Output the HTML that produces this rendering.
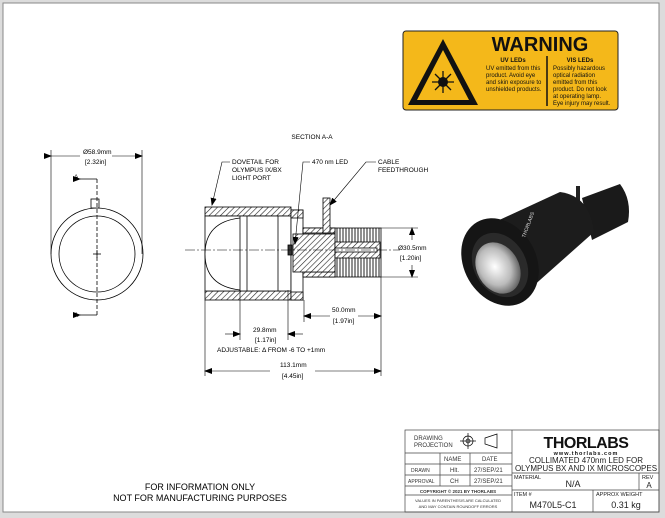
<!DOCTYPE html>
<html><head><meta charset="utf-8"><style>
html,body{margin:0;padding:0;background:#dcdcdc;}
svg{display:block;font-family:"Liberation Sans",sans-serif;}
</style></head><body>
<svg width="665" height="518" viewBox="0 0 665 518" xmlns="http://www.w3.org/2000/svg">
<defs>
<pattern id="h" width="4" height="4" patternUnits="userSpaceOnUse" patternTransform="rotate(45)">
<rect width="4" height="4" fill="#fff"/><line x1="0" y1="0" x2="0" y2="4" stroke="#222" stroke-width="1.2"/></pattern>
<pattern id="f" width="3" height="10" patternUnits="userSpaceOnUse"><rect width="3" height="10" fill="#fff"/><line x1="1" y1="0" x2="1" y2="10" stroke="#222" stroke-width="1"/></pattern>
<radialGradient id="lens" cx="0.45" cy="0.45" r="0.6"><stop offset="0" stop-color="#fff"/><stop offset="0.6" stop-color="#bbb"/><stop offset="1" stop-color="#555"/></radialGradient>
<marker id="ar" markerWidth="8" markerHeight="6" refX="7" refY="3" orient="auto" markerUnits="userSpaceOnUse"><path d="M0,0 L8,3 L0,6z" fill="#000"/></marker>
</defs>
<rect x="0" y="0" width="665" height="518" fill="#dcdcdc"/>
<rect x="3" y="3" width="656" height="509" fill="#fff" stroke="#888" stroke-width="1"/>

<!-- warning -->
<rect x="403" y="31" width="215" height="79" rx="3" fill="#f4b81a" stroke="#222" stroke-width="1"/>
<path d="M443,39 L478,105 L408,105Z" fill="#111"/>
<path d="M443,50 L469,100 L417,100Z" fill="#f4b81a"/>
<circle cx="443" cy="82" r="5" fill="#111"/>
<g stroke="#111" stroke-width="1.3">
<line x1="432" y1="82" x2="454" y2="82"/><line x1="443" y1="71" x2="443" y2="93"/>
<line x1="435" y1="74" x2="451" y2="90"/><line x1="451" y1="74" x2="435" y2="90"/>
</g>
<text x="540" y="51" font-size="20" font-weight="bold" text-anchor="middle" fill="#111">WARNING</text>
<line x1="547" y1="56" x2="547" y2="106" stroke="#111" stroke-width="1.5"/>
<g font-size="6" fill="#111">
<text x="513" y="62" font-weight="bold" text-anchor="middle">UV LEDs</text>
<text x="486" y="70">UV emitted from this</text>
<text x="486" y="77">product. Avoid eye</text>
<text x="486" y="84">and skin exposure to</text>
<text x="486" y="91">unshielded products.</text>
<text x="580" y="62" font-weight="bold" text-anchor="middle">VIS LEDs</text>
<text x="553" y="70">Possibly hazardous</text>
<text x="553" y="77">optical radiation</text>
<text x="553" y="84">emitted from this</text>
<text x="553" y="91">product. Do not look</text>
<text x="553" y="98">at operating lamp.</text>
<text x="553" y="105">Eye injury may result.</text>
</g>

<!-- left end view -->
<g stroke="#000" fill="none" stroke-width="0.8">
<circle cx="97" cy="254" r="46"/>
<circle cx="97" cy="254" r="38"/>
<rect x="91" y="199" width="8" height="9" fill="#fff"/>
<line x1="97" y1="179" x2="97" y2="315" stroke-dasharray="4,2"/>
<line x1="93" y1="254" x2="101" y2="254"/><line x1="97" y1="250" x2="97" y2="258"/>
<line x1="80" y1="179" x2="97" y2="179" marker-start="url(#ar)"/>
<line x1="80" y1="315" x2="97" y2="315" marker-start="url(#ar)"/>
<line x1="51" y1="150" x2="51" y2="254" stroke-width="0.6"/>
<line x1="142" y1="150" x2="142" y2="254" stroke-width="0.6"/>
<line x1="51" y1="156" x2="80" y2="156" marker-start="url(#ar)" stroke-width="0.6"/>
<line x1="112" y1="156" x2="142" y2="156" marker-end="url(#ar)" stroke-width="0.6"/>
</g>
<g font-size="6.5" fill="#000">
<text x="74" y="179">A</text><text x="74" y="317">A</text>
<text x="83" y="154">Ø58.9mm</text>
<text x="85" y="164">[2.32in]</text>
</g>

<!-- section view -->
<text x="312" y="139" font-size="6.5" text-anchor="middle">SECTION A-A</text>
<g stroke="#000" stroke-width="0.8">
<rect x="205" y="207" width="86" height="9" fill="url(#h)"/>
<rect x="205" y="291" width="86" height="9" fill="url(#h)"/>
<rect x="205" y="216" width="86" height="75" fill="#fff"/>
<path d="M240,218 Q205,222 205,254 Q205,286 240,290" fill="#fff"/>
<line x1="240" y1="216" x2="240" y2="291"/><line x1="247" y1="216" x2="247" y2="291"/>
<line x1="278" y1="216" x2="278" y2="291"/>
<rect x="291" y="210" width="12" height="90" fill="#fff"/>
<rect x="291" y="210" width="12" height="8" fill="url(#h)"/>
<rect x="291" y="292" width="12" height="8" fill="url(#h)"/>
<rect x="303" y="228" width="78" height="49" fill="url(#f)"/>
<rect x="303" y="228" width="32" height="49" fill="#fff"/>
<rect x="303" y="228" width="32" height="5" fill="url(#h)"/>
<rect x="303" y="272" width="32" height="5" fill="url(#h)"/>
<rect x="293" y="234" width="42" height="38" fill="url(#h)"/>
<rect x="335" y="242" width="45" height="16" fill="url(#h)"/>
<rect x="335" y="248" width="42" height="4" fill="#fff"/>
<rect x="323" y="198" width="7" height="35" fill="url(#h)"/>
<rect x="288" y="245" width="4" height="10" fill="#333"/>
</g>
<line x1="185" y1="250" x2="400" y2="250" stroke="#000" stroke-width="0.5" stroke-dasharray="10,2,2,2"/>
<g stroke="#000" stroke-width="0.6" fill="none">
<path d="M230,162 L222,162 L212,205" marker-end="url(#ar)"/>
<path d="M310,162 L303,162 L295,244" marker-end="url(#ar)"/>
<path d="M376,162 L366,162 L330,205" marker-end="url(#ar)"/>
<line x1="381" y1="277" x2="381" y2="376"/>
<line x1="205" y1="300" x2="205" y2="376"/>
<line x1="240" y1="290" x2="240" y2="340"/>
<line x1="288" y1="290" x2="288" y2="340"/>
<line x1="304" y1="300" x2="304" y2="322"/>
<line x1="381" y1="228" x2="418" y2="228"/><line x1="381" y1="277" x2="418" y2="277"/>
<line x1="412" y1="240" x2="412" y2="228" marker-end="url(#ar)"/>
<line x1="412" y1="265" x2="412" y2="277" marker-end="url(#ar)"/>
<line x1="330" y1="316" x2="304" y2="316" marker-end="url(#ar)"/>
<line x1="358" y1="316" x2="381" y2="316" marker-end="url(#ar)"/>
<line x1="225" y1="334" x2="240" y2="334" marker-end="url(#ar)"/>
<line x1="303" y1="334" x2="288" y2="334" marker-end="url(#ar)"/>
<line x1="270" y1="371" x2="205" y2="371" marker-end="url(#ar)"/>
<line x1="315" y1="371" x2="381" y2="371" marker-end="url(#ar)"/>
</g>
<g font-size="6.5" fill="#000">
<text x="232" y="164">DOVETAIL FOR</text>
<text x="232" y="172">OLYMPUS IX/BX</text>
<text x="232" y="180">LIGHT PORT</text>
<text x="312" y="164">470 nm LED</text>
<text x="378" y="164">CABLE</text>
<text x="378" y="172">FEEDTHROUGH</text>
<text x="398" y="250">Ø30.5mm</text>
<text x="400" y="260">[1.20in]</text>
<text x="332" y="312">50.0mm</text>
<text x="333" y="323">[1.97in]</text>
<text x="253" y="332">29.8mm</text>
<text x="255" y="342">[1.17in]</text>
<text x="217" y="352">ADJUSTABLE: Δ FROM -6 TO +1mm</text>
<text x="280" y="367">113.1mm</text>
<text x="282" y="378">[4.45in]</text>
</g>

<!-- photo -->
<g>
<path d="M576,186 L580,186 L580,214 L576,214Z" fill="#222"/>
<path d="M582,198 L620,184 Q632,200 628,222 L592,240Z" fill="#1a1a1a"/>
<path d="M495,222 L560,192 Q590,196 594,232 L522,296Z" fill="#1c1c1c"/>
<ellipse cx="500" cy="262" rx="36" ry="46" transform="rotate(-30 500 262)" fill="#151515"/>
<ellipse cx="500" cy="265" rx="26" ry="34" transform="rotate(-30 500 265)" fill="#2a2a2a"/>
<ellipse cx="498" cy="268" rx="21" ry="27" transform="rotate(-30 498 268)" fill="url(#lens)"/>
<text x="525" y="238" font-size="5" fill="#ddd" transform="rotate(-70 525 238)">THORLABS</text>
</g>

<text x="200" y="490" font-size="9" text-anchor="middle">FOR INFORMATION ONLY</text>
<text x="200" y="501" font-size="9" text-anchor="middle">NOT FOR MANUFACTURING PURPOSES</text>

<g stroke="#444" stroke-width="0.7" fill="none">
<rect x="405" y="430" width="254" height="82"/>
<line x1="512" y1="430" x2="512" y2="512"/>
<line x1="405" y1="453" x2="512" y2="453"/>
<line x1="405" y1="464" x2="512" y2="464"/>
<line x1="405" y1="475" x2="512" y2="475"/>
<line x1="405" y1="486" x2="512" y2="486"/>
<line x1="405" y1="495" x2="512" y2="495"/>
<line x1="440" y1="453" x2="440" y2="486"/>
<line x1="470" y1="453" x2="470" y2="486"/>
<line x1="512" y1="473" x2="659" y2="473"/>
<line x1="512" y1="490" x2="659" y2="490"/>
<line x1="639" y1="473" x2="639" y2="490"/>
<line x1="593" y1="490" x2="593" y2="512"/>
<circle cx="468" cy="441" r="5" stroke="#000"/><circle cx="468" cy="441" r="2" stroke="#000"/>
<line x1="460" y1="441" x2="476" y2="441" stroke="#000"/><line x1="468" y1="433" x2="468" y2="449" stroke="#000"/>
<path d="M485,438 L497,434 L497,448 L485,444Z" stroke="#000"/>
</g>
<g font-size="6" fill="#333">
<text x="414" y="440">DRAWING</text><text x="414" y="447">PROJECTION</text>
<text x="444" y="461">NAME</text><text x="482" y="461">DATE</text>
<text x="411" y="472" font-size="5">DRAWN</text><text x="450" y="472">Hlt.</text><text x="474" y="472">27/SEP/21</text>
<text x="408" y="483" font-size="5">APPROVAL</text><text x="450" y="483">CH</text><text x="474" y="483">27/SEP/21</text>
<text x="458" y="493" font-size="4.5" font-weight="bold" text-anchor="middle">COPYRIGHT © 2021 BY THORLABS</text>
<text x="458" y="502" font-size="4" text-anchor="middle">VALUES IN PARENTHESIS ARE CALCULATED</text>
<text x="458" y="508" font-size="4" text-anchor="middle">AND MAY CONTAIN ROUNDOFF ERRORS</text>
</g>
<text x="586" y="448" font-size="16" font-weight="bold" text-anchor="middle" fill="#111" letter-spacing="-0.5">THORLABS</text>
<text x="586" y="455" font-size="5.5" font-weight="bold" text-anchor="middle" fill="#111" letter-spacing="1">www.thorlabs.com</text>
<g fill="#222">
<text x="586" y="463" font-size="8" text-anchor="middle">COLLIMATED 470nm LED FOR</text>
<text x="586" y="471" font-size="8" text-anchor="middle">OLYMPUS BX AND IX MICROSCOPES</text>
<text x="514" y="479" font-size="5.5">MATERIAL</text>
<text x="573" y="487" font-size="9" text-anchor="middle">N/A</text>
<text x="642" y="479" font-size="5.5">REV</text>
<text x="649" y="488" font-size="8" text-anchor="middle">A</text>
<text x="514" y="496" font-size="5.5">ITEM #</text>
<text x="553" y="508" font-size="9" text-anchor="middle">M470L5-C1</text>
<text x="596" y="496" font-size="5.5">APPROX WEIGHT</text>
<text x="626" y="508" font-size="9" text-anchor="middle">0.31 kg</text>
</g>
</svg>
</body></html>
